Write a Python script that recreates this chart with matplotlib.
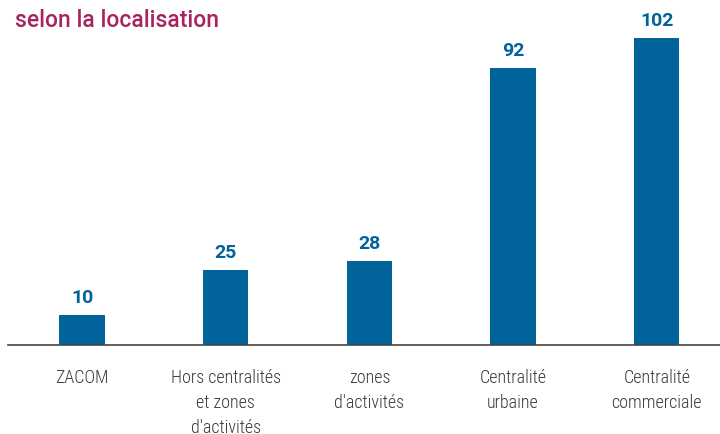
import matplotlib
matplotlib.use("Agg")
import matplotlib.pyplot as plt
from matplotlib import font_manager

# ---------- data ----------
categories = ["ZACOM", "Hors centralités\net zones\nd'activités", "zones\nd'activités",
              "Centralité\nurbaine", "Centralité\ncommerciale"]
values = [10, 25, 28, 92, 102]

BAR_COLOR = "#00639a"
TITLE_COLOR = "#a8235f"
TEXT_COLOR = "#3a3a3a"

names = {f.name for f in font_manager.fontManager.ttflist}
cond = "Roboto Condensed" if "Roboto Condensed" in names else "Roboto"
plt.rcParams["font.family"] = [cond, "DejaVu Sans"]

fig = plt.figure(figsize=(7.2, 4.34), dpi=100)
ax = fig.add_axes([8 / 720, 1 - 345 / 434, 1 - 8 / 720, 345 / 434])

x = range(len(values))
ax.bar(x, values, width=0.315, color=BAR_COLOR)
for xi, v in zip(x, values):
    ax.text(xi, v + 2.6, str(v), ha="center", va="bottom", fontsize=14,
            fontweight="bold", color=BAR_COLOR, family=["Roboto", "DejaVu Sans"])

ax.set_xlim(-0.515, 4.44)
ax.set_ylim(0, 114.6)
ax.set_xticks(list(x))
ax.set_xticklabels(categories, fontsize=13, color=TEXT_COLOR, linespacing=1.5,
                   fontweight="light")
ax.tick_params(axis="x", length=0, pad=17)
ax.set_yticks([])
for s in ["top", "right", "left"]:
    ax.spines[s].set_visible(False)
ax.spines["bottom"].set_color("#444444")
ax.spines["bottom"].set_linewidth(1.2)

fig.text(15 / 720, 1 - 27 / 434, "selon la localisation", fontsize=16.5,
         fontweight="medium", color=TITLE_COLOR, ha="left", va="baseline",
         family=["Roboto", "DejaVu Sans"])

fig.savefig("out.png", dpi=100)
